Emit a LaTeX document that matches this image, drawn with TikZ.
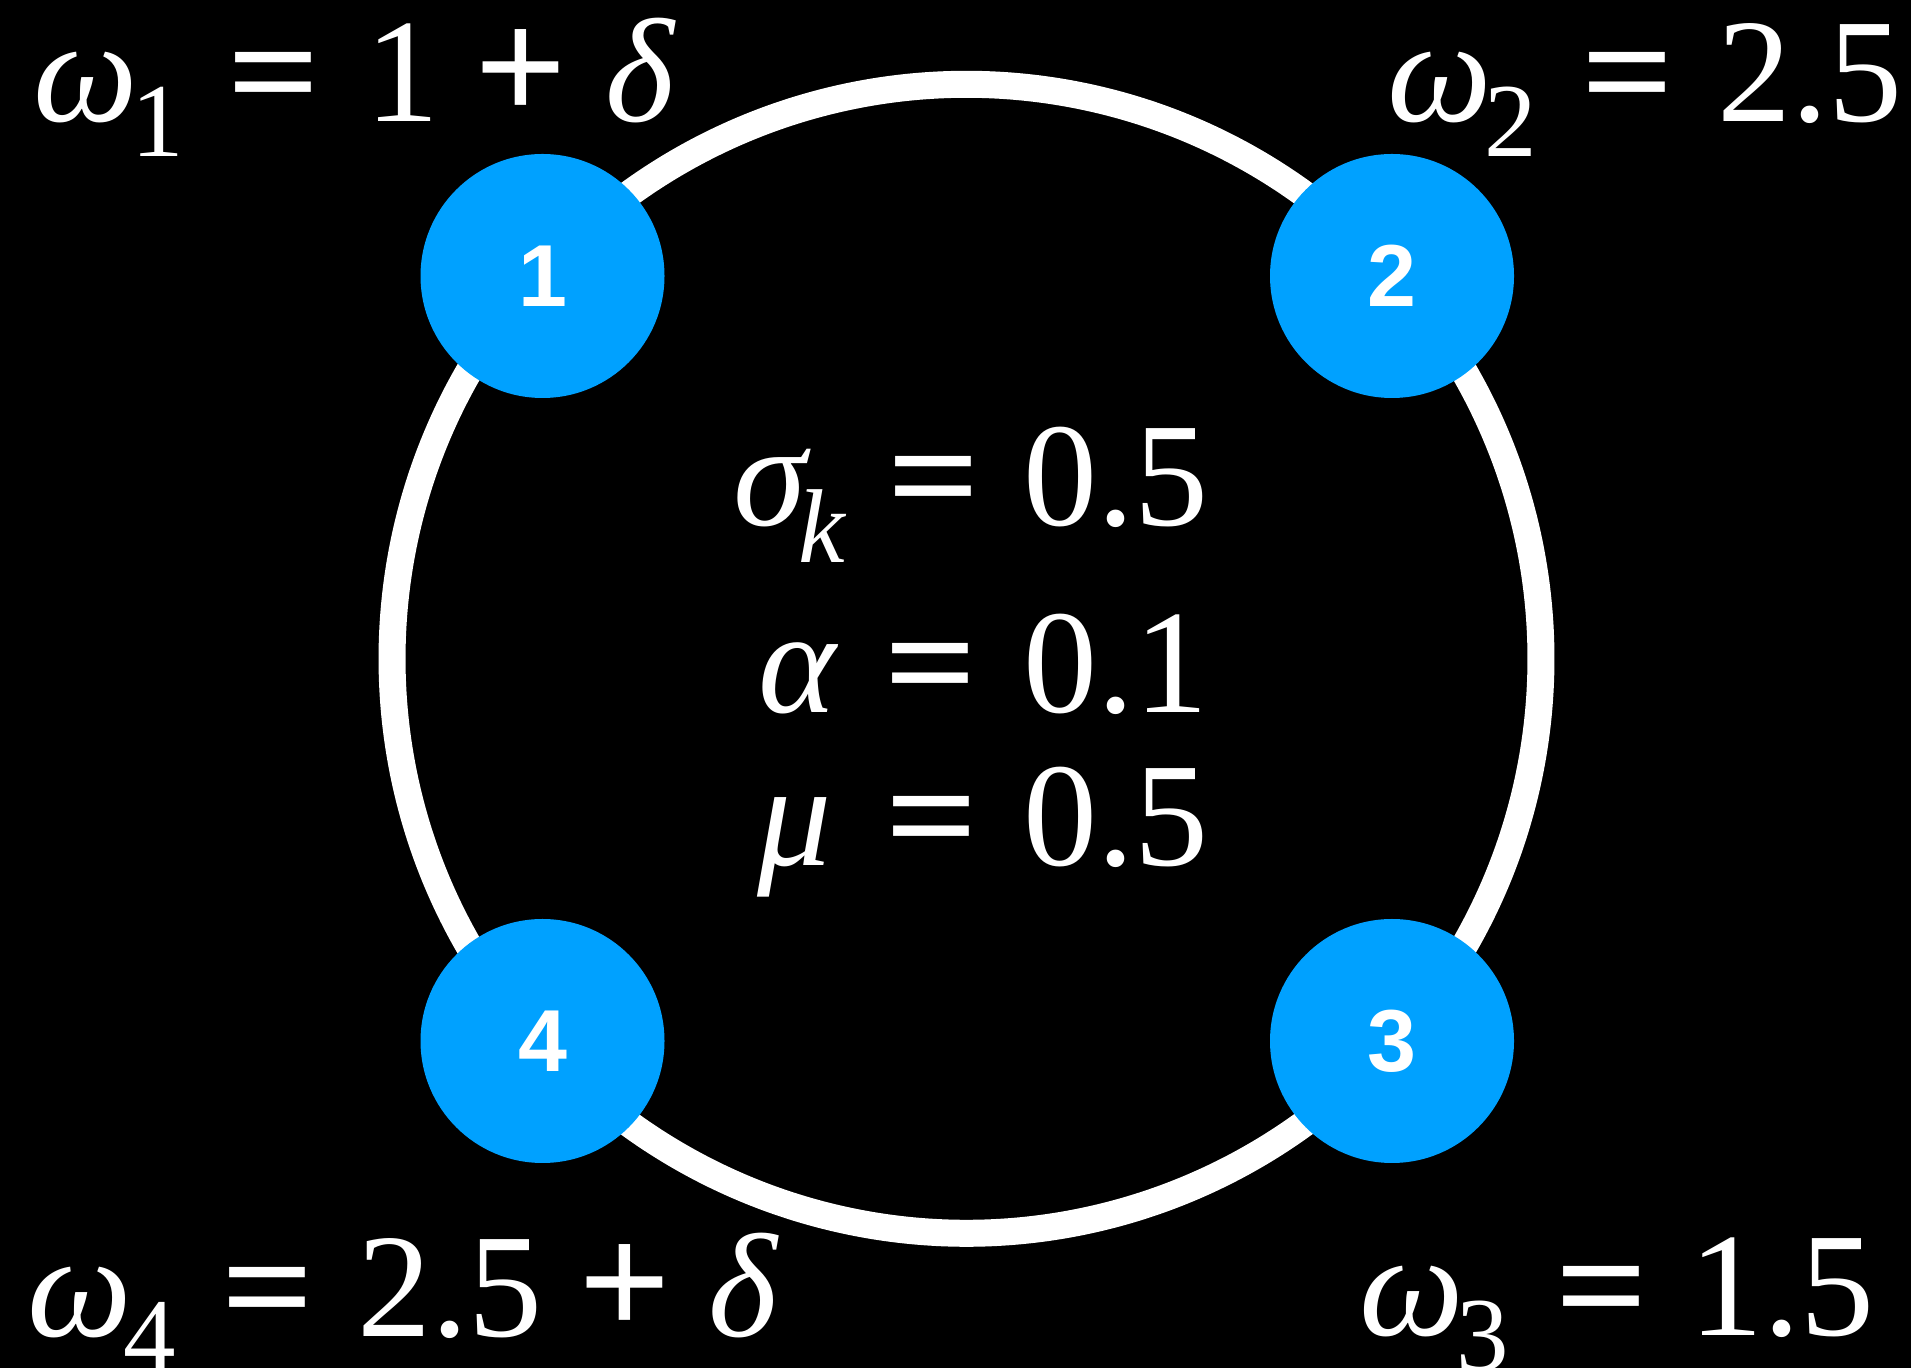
\documentclass[tikz,border=0pt]{standalone}
\usepackage{fontspec}
\usepackage{graphicx}
\setmainfont{Liberation Serif}
\newfontfamily\numfont{Liberation Sans}
\usetikzlibrary{calc}
\definecolor{oscblue}{RGB}{0,161,255}
\newcommand\bigsz{\fontsize{148}{160}\selectfont}
\newcommand\subsz{\fontsize{105}{110}\selectfont}
% token centred at a given offset from the left of its line
\newcommand\tk[3][0pt]{\rlap{\hspace{#2pt}\makebox[0pt][c]{\raisebox{#1}{#3}}}}
\newcommand\eqline[2]{\makebox[#1pt][l]{#2}}
\newcommand\eqs{\scalebox{1.1}[1]{\bfseries =}}
\newcommand\pls{\scalebox{1.1}[1.1]{\bfseries +}}
\tikzset{
  ring/.style={draw=white, line width=27pt},
  osc/.style={circle, fill=oscblue, minimum size=244pt, inner sep=0pt,
    text=white, font={\numfont\bfseries\fontsize{88}{88}\selectfont}},
  eqn/.style={anchor=base west, inner sep=0pt, text=white, font=\bigsz}
}
\begin{document}
\begin{tikzpicture}[x=1pt,y=1pt]
\fill[black] (0,0) rectangle (1911,1368);
\useasboundingbox (0,0) rectangle (1911,1368);
% ring
\coordinate (rc) at (966.5,709.2);
\coordinate (a1) at ($(rc)+(137.93:574.5)$);
\coordinate (a2) at ($(rc)+(42.07:574.5)$);
\coordinate (a3) at ($(rc)+(-41.93:574.5)$);
\coordinate (a4) at ($(rc)+(-138.07:574.5)$);
\draw[ring] (a1) arc[start angle=137.93, end angle=42.07, radius=574.5];
\draw[ring] (a2) arc[start angle=42.07, end angle=-41.93, radius=574.5];
\draw[ring] (a3) arc[start angle=-41.93, end angle=-138.07, radius=574.5];
\draw[ring] (a4) arc[start angle=-138.07, end angle=-222.07, radius=574.5];
% oscillators
\node[osc] (n1) at (542.5,1092) {1};
\node[osc] (n2) at (1392,1092) {2};
\node[osc] (n3) at (1392,327) {3};
\node[osc] (n4) at (542.5,327) {4};
% frequencies
\node[eqn] (w1) at (39,1246) {\eqline{634}{\tk{46.5}{\itshape ω}\tk[-35pt]{118.5}{\subsz 1}\tk{235}{\eqs}\tk{363}{1}\tk{482}{\pls}\tk{601}{\itshape δ}}};
\node[eqn] (w2) at (1393,1246) {\eqline{499}{\tk{46.5}{\itshape ω}\tk[-35pt]{117.5}{\subsz 2}\tk{235}{\eqs}\tk{417}{2.5}}};
\node[eqn] (w4) at (33,32) {\eqline{740}{\tk{46.5}{\itshape ω}\tk[-35pt]{117}{\subsz 4}\tk{234.5}{\eqs}\tk{417}{2.5}\tk{592}{\pls}\tk{709.5}{\itshape δ}}};
\node[eqn] (w3) at (1365,33) {\eqline{498}{\tk{46.5}{\itshape ω}\tk[-35pt]{117.5}{\subsz 3}\tk{236.5}{\eqs}\tk{417}{1.5}}};
% parameters
\node[eqn] (sk) at (733,842) {\eqline{466}{\tk{37}{\itshape σ}\tk[-37pt]{88.5}{\subsz\itshape k}\tk{201}{\eqs}\tk{383}{0.5}}};
\node[eqn] (al) at (759,655) {\eqline{435}{\tk{38.5}{\itshape α}\tk{171.5}{\eqs}\tk{357}{0.1}}};
\node[eqn] (mu) at (755,502) {\eqline{445}{\tk{39}{\itshape μ}\tk{176.5}{\eqs}\tk{361}{0.5}}};
\end{tikzpicture}
\end{document}
